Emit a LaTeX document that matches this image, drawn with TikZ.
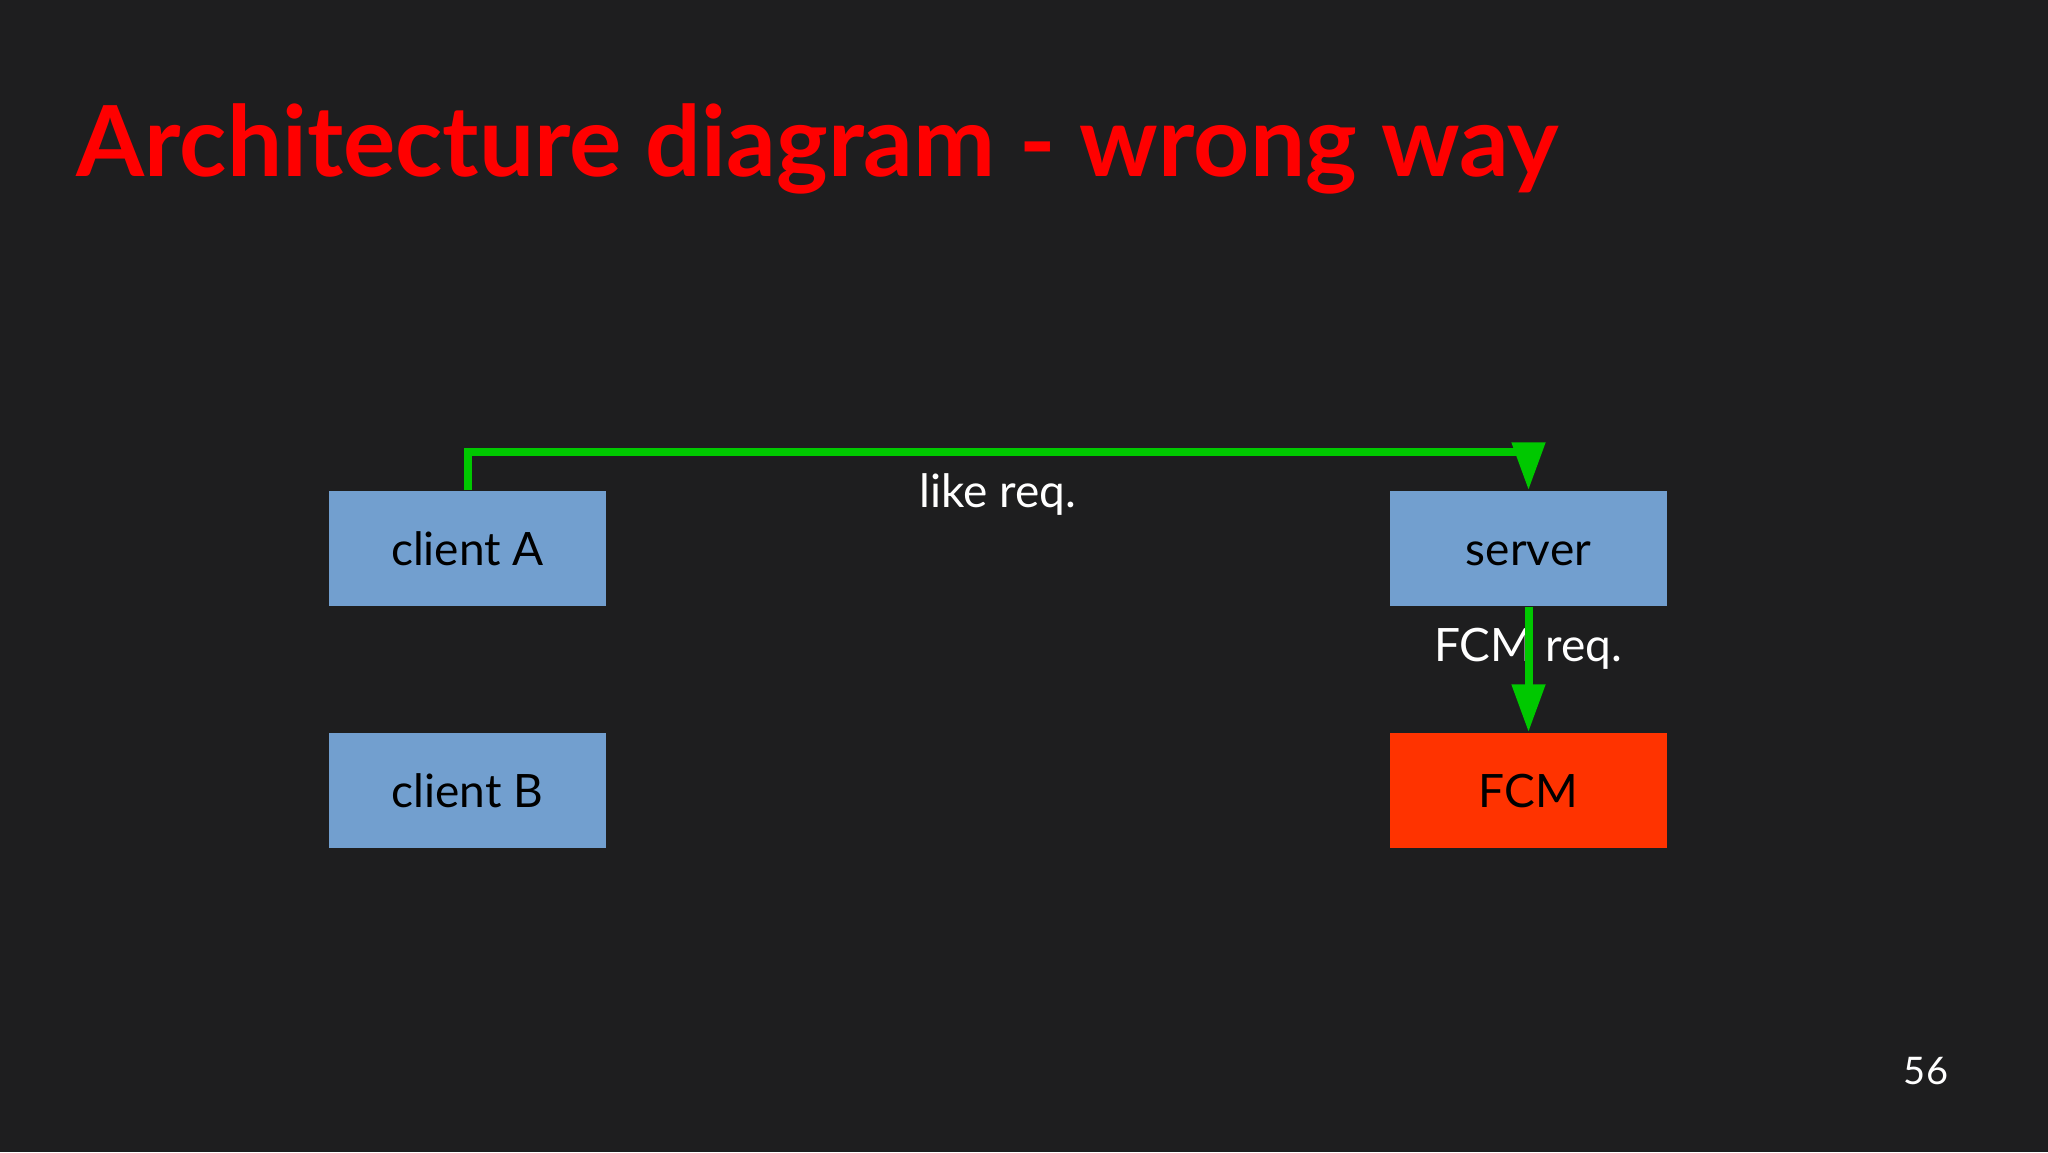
\documentclass[tikz,border=0pt]{standalone}
\usepackage{fontspec}
\setmainfont{Lato}
\usetikzlibrary{arrows.meta}

\definecolor{slidebg}{RGB}{30,30,31}
\definecolor{boxblue}{RGB}{114,159,207}
\definecolor{fcmred}{RGB}{255,51,0}
\definecolor{linkgreen}{RGB}{0,200,0}
\definecolor{titlered}{RGB}{255,0,0}

\tikzset{every picture/.style={line width=0.75pt}}
\tikzset{
	box/.style={fill=boxblue, minimum width=138.5pt, minimum height=57.5pt, inner sep=0pt, text height=17pt, text depth=0pt, text=black, font=\fontsize{23}{27}\selectfont},
	link/.style={draw=linkgreen, line width=4pt, -{Triangle[length=24pt,width=16pt]}},
	linktext/.style={text=white, inner sep=0pt, font=\fontsize{23}{27}\selectfont}
}

\begin{document}
\begin{tikzpicture}[x=0.5pt,y=0.5pt,yscale=-1,xscale=1]
	%Shape: Background
	\fill[slidebg] (0,0) rectangle (2048,1152);
	\useasboundingbox (0,0) rectangle (2048,1152);

	% Text Node
	\draw (76,176) node [anchor=base west, inner sep=0pt, text=titlered, font=\fontsize{49}{58}\selectfont\bfseries] (title) {Architecture diagram - wrong way};

	%Shape: Rectangle
	\draw (467.5,548.5) node [box] (clientA) {client A};
	%Shape: Rectangle
	\draw (467.5,790.5) node [box] (clientB) {client B};
	%Shape: Rectangle
	\draw (1528.5,548.5) node [box] (server) {server};
	%Shape: Rectangle
	\draw (1528.5,790.5) node [box, fill=fcmred] (fcm) {FCM};

	% Text Node
	\draw (998,494) node [linktext] (likereq) {like req.};
	% Text Node
	\draw (1528,649) node [linktext] (fcmreq) {FCM req.};

	%Straight Lines
	\draw [link] (clientA.north) -- ++(0,-38) -| (server.north);
	%Straight Lines
	\draw [link] (server) -- (fcm);

	% Text Node
	\draw (1926,1071) node [text=white, font=\fontsize{19}{23}\selectfont] (pagenum) {56};

\end{tikzpicture}
\end{document}
